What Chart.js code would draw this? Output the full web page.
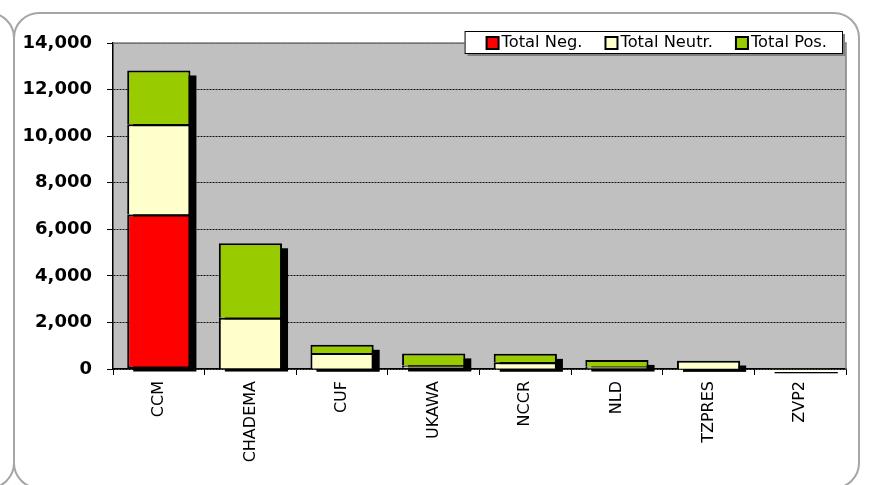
<!DOCTYPE html>
<html>
<head>
<meta charset="utf-8">
<script src="https://cdn.jsdelivr.net/npm/chart.js@4.4.1/dist/chart.umd.min.js"></script>
<style>
  html, body { margin: 0; padding: 0; background: #fff; }
  #wrap { width: 870px; height: 485px; position: relative; }
</style>
</head>
<body>
<div id="wrap"><canvas id="chart" width="870" height="485"></canvas></div>
<script>
// categories and series
const parties = ['CCM', 'CHADEMA', 'CUF', 'UKAWA', 'NCCR', 'NLD', 'TZPRES', 'ZVP2'];
const totalNeg = [6640, 20, 10, 50, 10, 20, 5, 0];
const totalNeutr = [3870, 2180, 680, 100, 280, 80, 350, 15];
const totalPos = [2310, 3200, 350, 520, 360, 290, 10, 15];
const yTicks = { min: 0, max: 14000, step: 2000 };

const seriesLabels = ['Total Neg.', 'Total Neutr.', 'Total Pos.'];
const seriesColors = ['#FF0000', '#FFFFCC', '#99CC00'];

// page frame, plot background, column shadows and the legend box
const framePlugin = {
    id: 'frame',
    beforeDraw(chart) {
        const ctx = chart.ctx;
        ctx.save();
        ctx.fillStyle = '#fff';
        ctx.fillRect(0, 0, chart.width, chart.height);
        ctx.strokeStyle = '#a6a6a6';
        ctx.lineWidth = 2;
        ctx.beginPath();
        ctx.roundRect(14, 13, 845, 475, 25);
        ctx.stroke();
        // neighbouring panel corners on the left
        ctx.beginPath();
        ctx.arc(-11, 38, 25, -Math.PI / 2, 0);
        ctx.stroke();
        ctx.beginPath();
        ctx.arc(-11, 463, 25, 0, Math.PI / 2);
        ctx.stroke();
        const a = chart.chartArea;
        ctx.fillStyle = '#C0C0C0';
        ctx.fillRect(a.left, a.top, a.right - a.left, a.bottom - a.top);
        ctx.restore();
    },
    beforeDatasetsDraw(chart) {
        const ctx = chart.ctx;
        const a = chart.chartArea;
        ctx.save();
        ctx.strokeStyle = '#808080';
        ctx.lineWidth = 1.5;
        ctx.beginPath();
        ctx.moveTo(a.left, a.top);
        ctx.lineTo(a.right, a.top);
        ctx.lineTo(a.right, a.bottom);
        ctx.stroke();
        ctx.fillStyle = '#000';
        const metas = chart.data.datasets.map((d, i) => chart.getDatasetMeta(i));
        parties.forEach((p, idx) => {
            let top = Infinity, base = 0, x = 0, w = 0;
            metas.forEach(m => {
                const el = m.data[idx];
                top = Math.min(top, el.y);
                base = Math.max(base, el.base);
                x = el.x; w = el.width;
            });
            ctx.fillRect(x - w / 2 + 6, top + 5, w, base - top - 2);
        });
        ctx.restore();
    },
    afterDraw(chart) {
        const ctx = chart.ctx;
        const a = chart.chartArea;
        ctx.save();
        ctx.font = '16.3px "DejaVu Sans"';
        const sq = 12, gap = 3, spacing = 23, padL = 22, padR = 15;
        let w = padL + padR;
        seriesLabels.forEach((l, i) => {
            w += sq + gap + ctx.measureText(l).width + (i < seriesLabels.length - 1 ? spacing : 0);
        });
        const h = 22;
        const bx = a.right - 4 - w, by = a.top - 12;
        ctx.fillStyle = '#808080';
        ctx.fillRect(bx + 3, by + 3, w, h);
        ctx.fillStyle = '#fff';
        ctx.fillRect(bx, by, w, h);
        ctx.strokeStyle = '#000';
        ctx.lineWidth = 1;
        ctx.strokeRect(bx + 0.5, by + 0.5, w, h);
        let x = bx + padL;
        const cy = by + h / 2 + 1;
        seriesLabels.forEach((l, i) => {
            ctx.fillStyle = seriesColors[i];
            ctx.fillRect(x, cy - sq / 2, sq, sq);
            ctx.lineWidth = 2;
            ctx.strokeRect(x, cy - sq / 2, sq, sq);
            x += sq + gap;
            ctx.fillStyle = '#000';
            ctx.textBaseline = 'middle';
            ctx.fillText(l, x, cy);
            x += ctx.measureText(l).width + spacing;
        });
        ctx.restore();
    }
};

const ctx = document.getElementById('chart').getContext('2d');
new Chart(ctx, {
    type: 'bar',
    data: {
        labels: parties,
        datasets: [
            { label: seriesLabels[0], data: totalNeg, backgroundColor: seriesColors[0], borderSkipped: false },
            { label: seriesLabels[1], data: totalNeutr, backgroundColor: seriesColors[1], borderSkipped: 'start' },
            { label: seriesLabels[2], data: totalPos, backgroundColor: seriesColors[2], borderSkipped: 'start' }
        ].map(d => Object.assign(d, {
            borderColor: '#000',
            borderWidth: 2,
            barPercentage: 0.69,
            categoryPercentage: 1
        }))
    },
    options: {
        responsive: false,
        animation: false,
        layout: { padding: { left: 0, top: 43, right: 24, bottom: 0 } },
        plugins: {
            legend: { display: false },
            tooltip: { enabled: false }
        },
        scales: {
            x: {
                stacked: true,
                afterFit(scale) { scale.height = 116; },
                grid: {
                    offset: true,
                    drawOnChartArea: false,
                    drawTicks: true,
                    tickLength: 6,
                    tickColor: '#000'
                },
                border: { color: '#000', width: 1.5 },
                ticks: {
                    minRotation: 90,
                    maxRotation: 90,
                    padding: 6,
                    color: '#000',
                    font: { family: 'DejaVu Sans', size: 16 }
                }
            },
            y: {
                stacked: true,
                min: yTicks.min,
                max: yTicks.max,
                afterFit(scale) { scale.width = 113; },
                grid: {
                    color: '#111',
                    lineWidth: 1,
                    drawTicks: true,
                    tickLength: 6,
                    tickColor: '#000',
                    tickBorderDash: []
                },
                // in v4 border.dash dashes the gridlines, the axis line stays solid
                border: { color: '#000', width: 1.5, dash: [2, 1] },
                ticks: {
                    stepSize: yTicks.step,
                    padding: 15,
                    color: '#000',
                    font: { family: 'DejaVu Sans', size: 18, weight: 'bold' },
                    callback: v => v.toLocaleString('en-US')
                }
            }
        }
    },
    plugins: [framePlugin]
});
</script>
</body>
</html>
